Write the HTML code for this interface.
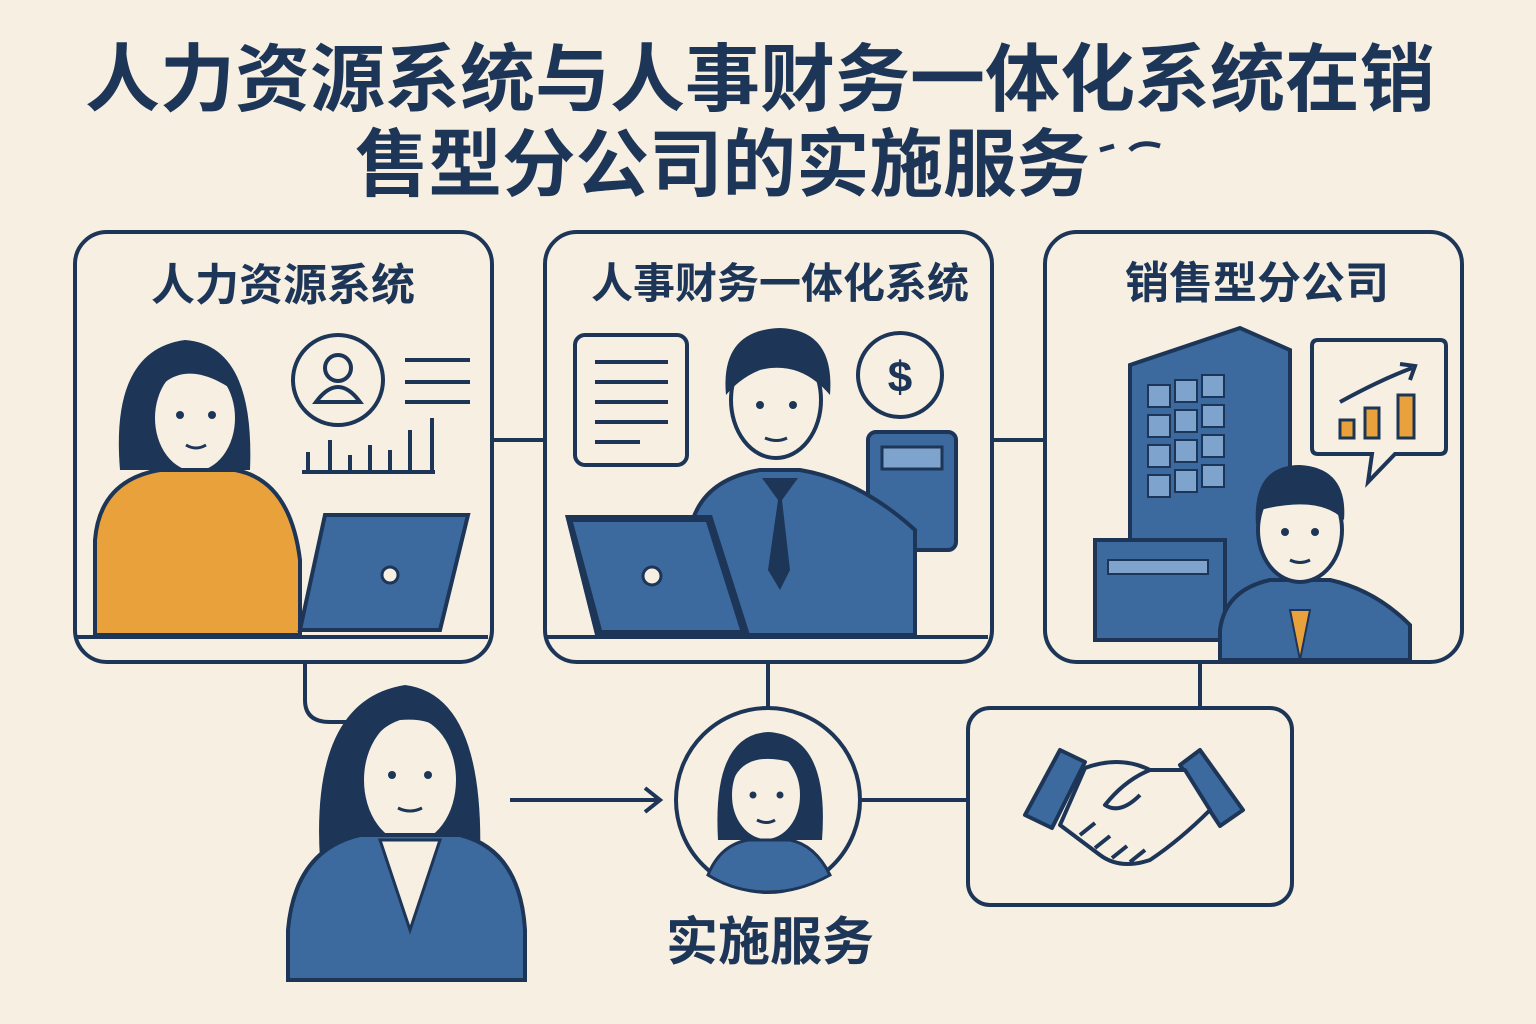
<!DOCTYPE html>
<html><head><meta charset="utf-8"><style>
html,body{margin:0;padding:0;background:#f6efe2;}
svg{display:block}
text{font-family:"Liberation Sans","Noto Sans CJK SC",sans-serif;font-weight:bold;fill:#1d3557}
</style></head><body>
<svg width="1536" height="1024" viewBox="0 0 1536 1024" xmlns="http://www.w3.org/2000/svg">
<rect width="1536" height="1024" fill="#f6efe2"/>
<text x="760" y="105" font-size="74" text-anchor="middle" textLength="1350" lengthAdjust="spacingAndGlyphs">人力资源系统与人事财务一体化系统在销</text>
<text x="355" y="190" font-size="74" textLength="735" lengthAdjust="spacingAndGlyphs">售型分公司的实施服务</text>
<path d="M1100 150 l14 -4 M1130 150 q10 -10 30 -4" stroke="#1d3557" stroke-width="5" fill="none"/>

<g stroke="#1d3557" stroke-width="4" fill="none">
<line x1="492" y1="440" x2="545" y2="440"/>
<line x1="992" y1="440" x2="1045" y2="440"/>
<path d="M305 662 V700 Q305 722 330 722 H350"/>
<line x1="768" y1="662" x2="768" y2="710"/>
<line x1="1200" y1="662" x2="1200" y2="708"/>
<line x1="510" y1="800" x2="658" y2="800"/>
<path d="M645 788 L660 800 L645 812"/>
<line x1="860" y1="800" x2="968" y2="800"/>
</g>

<!-- Panel 1 -->
<rect x="75" y="232" width="417" height="430" rx="32" fill="#f6efe2" stroke="#1d3557" stroke-width="4"/>
<text x="283" y="300" font-size="44" text-anchor="middle">人力资源系统</text>
<g stroke="#1d3557" stroke-width="4" fill="none">
<circle cx="338" cy="380" r="45"/><circle cx="338" cy="368" r="13"/><path d="M316 402 q22 -30 44 0 z"/>
<path d="M405 360 H470 M405 382 H470 M405 402 H470"/>
<path d="M302 472 H435 M308 472 V452 M330 472 V440 M350 472 V455 M370 472 V445 M390 472 V450 M410 472 V430 M432 472 V418"/>
</g>
<path d="M120 470 Q110 350 185 340 Q255 345 250 470 Z" fill="#1d3557"/>
<ellipse cx="195" cy="418" rx="42" ry="55" fill="#f6efe2" stroke="#1d3557" stroke-width="4"/>
<path d="M150 400 Q180 350 240 395 Q230 350 190 350 Q150 355 150 400Z" fill="#1d3557"/>
<g fill="#1d3557"><circle cx="180" cy="415" r="4"/><circle cx="212" cy="415" r="4"/></g>
<path d="M186 445 q10 6 20 0" stroke="#1d3557" stroke-width="3" fill="none"/>
<path d="M95 635 V540 Q100 480 160 470 L235 470 Q290 480 300 560 V635 Z" fill="#e9a23b" stroke="#1d3557" stroke-width="4"/>
<path d="M300 630 L325 515 H468 L440 630 Z" fill="#3d6a9e" stroke="#1d3557" stroke-width="4"/>
<circle cx="390" cy="575" r="8" fill="#f6efe2" stroke="#1d3557" stroke-width="3"/>
<line x1="77" y1="637" x2="488" y2="637" stroke="#1d3557" stroke-width="4"/>

<!-- Panel 2 -->
<rect x="545" y="232" width="447" height="430" rx="32" fill="#f6efe2" stroke="#1d3557" stroke-width="4"/>
<text x="780" y="298" font-size="42" text-anchor="middle">人事财务一体化系统</text>
<g stroke="#1d3557" stroke-width="4" fill="none">
<rect x="575" y="335" width="112" height="130" rx="10"/>
<path d="M595 362 H668 M595 382 H668 M595 402 H668 M595 422 H668 M595 442 H640"/>
<circle cx="900" cy="375" r="42"/>
</g>
<text x="900" y="392" font-size="44" text-anchor="middle" font-weight="normal">$</text>
<rect x="868" y="432" width="88" height="118" rx="8" fill="#3d6a9e" stroke="#1d3557" stroke-width="4"/>
<rect x="882" y="447" width="60" height="22" fill="#7ea3cc" stroke="#1d3557" stroke-width="3"/>
<path d="M690 635 V530 Q700 480 760 470 H800 Q860 480 915 530 V635 Z" fill="#3d6a9e" stroke="#1d3557" stroke-width="4"/>
<path d="M762 478 L778 500 L768 570 L780 590 L790 570 L782 500 L798 478Z" fill="#1d3557"/>
<ellipse cx="776" cy="400" rx="45" ry="58" fill="#f6efe2" stroke="#1d3557" stroke-width="4"/>
<path d="M726 395 Q720 330 780 328 Q835 330 830 395 Q800 360 760 370 Q740 378 726 395Z" fill="#1d3557"/>
<g fill="#1d3557"><circle cx="760" cy="405" r="4"/><circle cx="793" cy="405" r="4"/></g>
<path d="M765 438 q12 5 22 0" stroke="#1d3557" stroke-width="3" fill="none"/>
<path d="M565 515 H712 L750 635 H595 Z" fill="#1d3557"/>
<path d="M573 522 H706 L740 630 H602 Z" fill="#3d6a9e"/>
<circle cx="652" cy="576" r="9" fill="#f6efe2" stroke="#1d3557" stroke-width="3"/>
<line x1="547" y1="637" x2="988" y2="637" stroke="#1d3557" stroke-width="4"/>

<!-- Panel 3 -->
<rect x="1045" y="232" width="417" height="430" rx="32" fill="#f6efe2" stroke="#1d3557" stroke-width="4"/>
<text x="1257" y="298" font-size="44" text-anchor="middle">销售型分公司</text>
<path d="M1130 365 L1240 328 L1290 350 V640 H1130Z" fill="#3d6a9e" stroke="#1d3557" stroke-width="4"/>
<g fill="#7ea3cc" stroke="#1d3557" stroke-width="2">
<rect x="1148" y="385" width="22" height="22"/><rect x="1175" y="380" width="22" height="22"/><rect x="1202" y="375" width="22" height="22"/>
<rect x="1148" y="415" width="22" height="22"/><rect x="1175" y="410" width="22" height="22"/><rect x="1202" y="405" width="22" height="22"/>
<rect x="1148" y="445" width="22" height="22"/><rect x="1175" y="440" width="22" height="22"/><rect x="1202" y="435" width="22" height="22"/>
<rect x="1148" y="475" width="22" height="22"/><rect x="1175" y="470" width="22" height="22"/><rect x="1202" y="465" width="22" height="22"/>
</g>
<rect x="1095" y="540" width="130" height="100" fill="#3d6a9e" stroke="#1d3557" stroke-width="4"/>
<rect x="1108" y="560" width="100" height="14" fill="#7ea3cc" stroke="#1d3557" stroke-width="2"/>
<path d="M1318 340 H1440 Q1446 340 1446 346 V448 Q1446 454 1440 454 H1395 L1368 482 L1372 454 H1318 Q1312 454 1312 448 V346 Q1312 340 1318 340Z" fill="#f6efe2" stroke="#1d3557" stroke-width="4"/>
<g fill="#e9a23b" stroke="#1d3557" stroke-width="3"><rect x="1340" y="420" width="14" height="18"/><rect x="1365" y="408" width="14" height="30"/><rect x="1398" y="395" width="16" height="43"/></g>
<path d="M1340 402 Q1380 380 1412 368 M1400 364 L1415 366 L1410 380" stroke="#1d3557" stroke-width="4" fill="none"/>
<path d="M1220 660 V630 Q1225 590 1270 580 H1330 Q1375 590 1410 625 V660Z" fill="#3d6a9e" stroke="#1d3557" stroke-width="4"/>
<path d="M1290 610 L1300 660 L1310 610 Z" fill="#e9a23b" stroke="#1d3557" stroke-width="2"/>
<ellipse cx="1300" cy="530" rx="42" ry="52" fill="#f6efe2" stroke="#1d3557" stroke-width="4"/>
<path d="M1256 525 Q1252 465 1300 465 Q1348 468 1344 520 Q1320 495 1260 510Z" fill="#1d3557"/>
<g fill="#1d3557"><circle cx="1285" cy="532" r="4"/><circle cx="1315" cy="532" r="4"/></g>
<path d="M1290 560 q10 5 20 0" stroke="#1d3557" stroke-width="3" fill="none"/>

<!-- Bottom woman -->
<path d="M320 860 Q310 700 405 685 Q485 695 480 860Z" fill="#1d3557"/>
<ellipse cx="410" cy="780" rx="48" ry="65" fill="#f6efe2" stroke="#1d3557" stroke-width="4"/>
<path d="M358 770 Q375 700 450 720 Q465 740 460 770 Q455 715 400 720 Q370 730 358 770Z" fill="#1d3557"/>
<g fill="#1d3557"><circle cx="392" cy="775" r="4"/><circle cx="428" cy="775" r="4"/></g>
<path d="M398 808 q12 6 24 0" stroke="#1d3557" stroke-width="3" fill="none"/>
<path d="M288 980 V930 Q295 850 360 835 H460 Q520 850 525 930 V980Z" fill="#3d6a9e" stroke="#1d3557" stroke-width="4"/>
<path d="M380 840 L410 930 L440 840Z" fill="#f6efe2" stroke="#1d3557" stroke-width="3"/>

<!-- Circle -->
<circle cx="768" cy="800" r="92" fill="#f6efe2" stroke="#1d3557" stroke-width="4"/>
<path d="M718 840 Q712 735 768 732 Q830 735 822 840Z" fill="#1d3557"/>
<ellipse cx="766" cy="795" rx="36" ry="46" fill="#f6efe2" stroke="#1d3557" stroke-width="4"/>
<path d="M730 790 Q740 745 800 765 Q790 752 765 750 Q735 755 730 790Z" fill="#1d3557"/>
<g fill="#1d3557"><circle cx="753" cy="795" r="3.5"/><circle cx="780" cy="795" r="3.5"/></g>
<path d="M757 820 q10 5 18 0" stroke="#1d3557" stroke-width="3" fill="none"/>
<path d="M708 875 Q720 845 748 840 H790 Q815 845 830 875 Q800 892 768 892 Q735 892 708 875Z" fill="#3d6a9e" stroke="#1d3557" stroke-width="3"/>
<text x="770" y="960" font-size="52" text-anchor="middle">实施服务</text>

<!-- Handshake -->
<rect x="968" y="708" width="324" height="197" rx="22" fill="#f6efe2" stroke="#1d3557" stroke-width="4"/>
<g stroke="#1d3557" stroke-width="4" stroke-linejoin="round">
<path d="M1025 815 L1060 750 L1085 762 L1052 828Z" fill="#3d6a9e"/>
<path d="M1200 750 L1243 810 L1220 826 L1180 765Z" fill="#3d6a9e"/>
<path d="M1085 768 Q1120 755 1150 770 L1185 770 L1210 810 Q1180 840 1150 860 Q1120 870 1100 855 L1060 825Z" fill="#f6efe2"/>
<path d="M1150 770 Q1125 780 1105 805 Q1120 815 1140 795" fill="none"/>
<path d="M1080 835 l15 -12 M1095 848 l15 -12 M1112 858 l15 -12 M1130 862 l15 -12" fill="none"/>
</g>
</svg>
</body></html>
